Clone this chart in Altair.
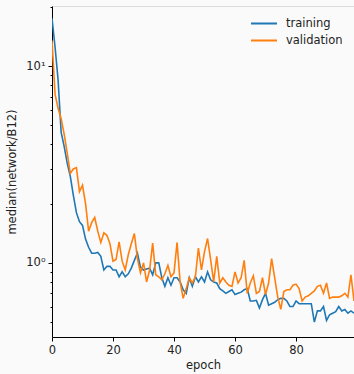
import altair as alt
import pandas as pd

# Per-epoch medians of network/B12 for the two splits
epochs = list(range(100))
training = [
    17.5, 12.5, 8.5, 4.6, 3.9, 3.2, 2.75, 2.2, 1.8, 1.62,
    1.55, 1.32, 1.2, 1.12, 1.12, 1.13, 1.08, 0.92, 0.96, 0.96,
    0.92, 0.92, 0.85, 0.90, 0.85, 0.88, 0.94, 1.03, 1.12, 0.95,
    0.92, 0.93, 0.94, 0.87, 1.0, 1.0, 0.84, 0.76, 0.84, 0.77,
    0.84, 0.84, 0.80, 0.73, 0.70, 0.84, 0.76, 0.85, 0.80, 0.85,
    0.80, 0.90, 0.82, 0.80, 0.79, 0.74, 0.72, 0.70, 0.715, 0.73,
    0.69, 0.70, 0.71, 0.73, 0.74, 0.64, 0.64, 0.645, 0.59, 0.65,
    0.70, 0.61, 0.62, 0.63, 0.65, 0.66, 0.66, 0.64, 0.60, 0.60,
    0.64, 0.62, 0.62, 0.62, 0.62, 0.62, 0.50, 0.57, 0.57, 0.60,
    0.51, 0.545, 0.555, 0.565, 0.60, 0.57, 0.58, 0.555, 0.57, 0.555,
]
validation = [
    13.5, 7.2, 6.1, 5.4, 4.5, 3.6, 2.85, 3.0, 3.05, 2.3,
    2.48, 2.0, 1.45, 1.6, 1.7, 1.45, 1.27, 1.42, 1.38, 1.25,
    1.02, 1.04, 1.28, 1.02, 0.92, 1.1, 1.25, 1.41, 1.05, 0.89,
    1.0, 0.80, 0.92, 1.26, 0.87, 0.85, 0.82, 0.88, 0.97, 0.85,
    0.89, 1.27, 0.80, 0.66, 0.74, 0.84, 0.79, 0.85, 1.19, 0.92,
    1.14, 1.33, 1.04, 0.80, 1.08, 0.79, 0.84, 0.80, 0.77, 0.76,
    0.90, 0.79, 0.84, 1.03, 0.70, 0.79, 0.86, 0.70, 0.715, 0.84,
    0.69, 0.79, 1.05, 0.84, 0.67, 0.58, 0.715, 0.73, 0.73, 0.77,
    0.78, 0.74, 0.64, 0.67, 0.68, 0.70, 0.72, 0.76, 0.77, 0.70,
    0.79, 0.66, 0.67, 0.67, 0.67, 0.68, 0.70, 0.67, 0.87, 0.64,
]
series_names = ["training", "validation"]
series_colors = ["#1f77b4", "#ff7f0e"]

x_ticks = [0, 20, 40, 60, 80]
y_ticks = [0.5, 0.6, 0.7, 0.8, 0.9, 1, 2, 3, 4, 5, 6, 7, 8, 9, 10, 20]

df = pd.DataFrame({
    "epoch": epochs + epochs,
    "value": training + validation,
    "series": [series_names[0]] * len(training) + [series_names[1]] * len(validation),
})

FONT = "DejaVu Sans"
TEXT = "#222222"

chart = (
    alt.Chart(df)
    .mark_line(strokeWidth=1.6, clip=True)
    .encode(
        x=alt.X(
            "epoch:Q",
            title="epoch",
            scale=alt.Scale(domain=[0, 99], nice=False, zero=False),
            axis=alt.Axis(
                values=x_ticks, grid=False, domainColor="black", tickColor="black",
                tickSize=4, labelPadding=3, labelFontSize=11.5, labelColor=TEXT,
                titleFontSize=11.5, titleColor=TEXT, titleFontWeight="normal",
                titlePadding=4, labelFlush=False,
            ),
        ),
        y=alt.Y(
            "value:Q",
            title="median(network/B12)",
            scale=alt.Scale(type="log", domain=[0.42, 20.2], nice=False),
            axis=alt.Axis(
                values=y_ticks, grid=False, domainColor="black", tickColor="black",
                tickSize={"condition": {"test": "datum.value == 1 || datum.value == 10", "value": 4}, "value": 2},
                labelExpr="datum.value == 10 ? '10¹' : (datum.value == 1 ? '10⁰' : '')",
                labelPadding=3, labelFontSize=11.5, labelColor=TEXT,
                titleFontSize=11.5, titleColor=TEXT, titleFontWeight="normal",
                titlePadding=8,
            ),
        ),
        color=alt.Color(
            "series:N",
            scale=alt.Scale(domain=series_names, range=series_colors),
            legend=alt.Legend(
                title=None, orient="none", legendX=204.5, legendY=10,
                # wide horizontal stroke drawn within a compact symbol box
                symbolType="M-2,0L2,0", symbolSize=169, symbolStrokeWidth=2,
                labelFontSize=11.5, labelColor=TEXT, labelOffset=14.5,
                rowPadding=4,
            ),
        ),
    )
    .properties(
        width=302,
        height=331,
        autosize="none",
        padding={"left": 52, "top": 6, "right": 0, "bottom": 37},
        background="#fafafa",
    )
    .configure_view(stroke="#444444", strokeWidth=1, fill="#fafafa")
    .configure(font=FONT)
)

chart.save("out.html", embed_options={"renderer": "svg", "actions": False})
